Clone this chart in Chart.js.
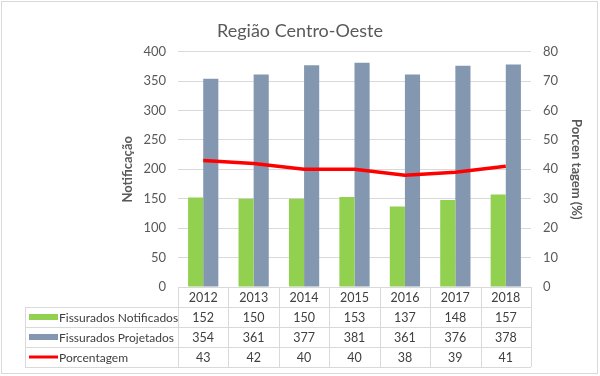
<!DOCTYPE html>
<html>
<head>
<meta charset="utf-8">
<script src="https://cdn.jsdelivr.net/npm/chart.js@4"></script>
<style>
  body { margin: 0; background: #fff; }
  #wrap { width: 600px; height: 376px; }
</style>
</head>
<body>
<div id="wrap"><canvas id="chart"></canvas></div>
<script>
const years = ['2012', '2013', '2014', '2015', '2016', '2017', '2018'];
const notificados = [152, 150, 150, 153, 137, 148, 157];
const projetados = [354, 361, 377, 381, 361, 376, 378];
const porcentagem = [43, 42, 40, 40, 38, 39, 41];

const seriesNames = ['Fissurados Notificados', 'Fissurados Projetados', 'Porcentagem'];
const green = '#92d050';
const blue = '#8497b0';
const red = '#ff0000';
const font = 'Lato, sans-serif';
const textCol = '#595959';
const lineCol = '#d9d9d9';

// data table under the plot, columns follow the x scale
const tablePlugin = {
  id: 'dataTable',
  afterDraw(chart) {
    const c = chart.ctx;
    const x = chart.scales.x;
    const area = chart.chartArea;
    const step = (area.right - area.left) / years.length;
    const rowH = 20;
    const top = area.bottom;
    const tblLeft = 25;

    c.save();
    c.strokeStyle = lineCol;
    c.lineWidth = 1;
    c.beginPath();
    // horizontal lines
    c.moveTo(area.left, top + 0.5); c.lineTo(area.right, top + 0.5);
    for (let r = 1; r <= 4; r++) {
      const y = Math.round(top + r * rowH) + 0.5;
      c.moveTo(tblLeft, y); c.lineTo(area.right, y);
    }
    // vertical lines
    for (let i = 0; i <= years.length; i++) {
      const xx = Math.round(area.left + i * step) + 0.5;
      c.moveTo(xx, top); c.lineTo(xx, top + 4 * rowH);
    }
    c.moveTo(tblLeft + 0.5, top + rowH); c.lineTo(tblLeft + 0.5, top + 4 * rowH);
    c.stroke();

    c.fillStyle = '#404040';
    c.font = '12.5px ' + font;
    c.textAlign = 'center';
    c.textBaseline = 'middle';
    const rows = [years, notificados, projetados, porcentagem];
    rows.forEach((vals, r) => {
      const y = top + r * rowH + rowH / 2 + 1;
      vals.forEach((v, i) => c.fillText(String(v), x.getPixelForValue(i), y));
    });

    // legend keys and names
    c.textAlign = 'left';
    c.font = '12px ' + font;
    seriesNames.forEach((name, k) => {
      const y = top + (k + 1) * rowH + rowH / 2;
      if (k < 2) {
        c.fillStyle = k === 0 ? green : blue;
        c.fillRect(tblLeft + 4, y - 3, 29, 6);
      } else {
        c.strokeStyle = red;
        c.lineWidth = 3;
        c.beginPath();
        c.moveTo(tblLeft + 4, y); c.lineTo(tblLeft + 33, y);
        c.stroke();
      }
      c.fillStyle = '#404040';
      c.fillText(name, tblLeft + 34, y + 1);
    });

    // outer frame
    c.strokeStyle = lineCol;
    c.lineWidth = 1;
    c.strokeRect(1.5, 1.5, 596, 372);
    c.restore();
  }
};

new Chart(document.getElementById('chart'), {
  type: 'bar',
  data: {
    labels: years,
    datasets: [
      {
        type: 'line',
        label: seriesNames[2],
        data: porcentagem,
        yAxisID: 'y1',
        borderColor: red,
        borderWidth: 3.5,
        pointRadius: 0,
        order: 0
      },
      {
        label: seriesNames[0],
        data: notificados,
        backgroundColor: green,
        yAxisID: 'y',
        order: 1
      },
      {
        label: seriesNames[1],
        data: projetados,
        backgroundColor: blue,
        yAxisID: 'y',
        order: 1
      }
    ]
  },
  options: {
    responsive: true,
    maintainAspectRatio: false,
    animation: false,
    datasets: {
      bar: { categoryPercentage: 0.6, barPercentage: 1.0 }
    },
    layout: { padding: { left: 12, right: 12, top: 18, bottom: 89 } },
    scales: {
      x: {
        display: false,
        offset: true
      },
      y: {
        position: 'left',
        min: 0,
        max: 400,
        ticks: { stepSize: 50, padding: 12, color: textCol, font: { family: font, size: 13 } },
        grid: { color: lineCol, drawTicks: false },
        border: { display: false },
        title: {
          display: true,
          text: 'Notificação',
          color: textCol,
          padding: { top: 108, bottom: 4 },
          font: { family: font, size: 13, weight: 'bold' }
        },
        afterFit(scale) { scale.width = 166; }
      },
      y1: {
        position: 'right',
        min: 0,
        max: 80,
        ticks: { stepSize: 10, padding: 12, color: textCol, font: { family: font, size: 13 } },
        grid: { display: false, drawTicks: false },
        border: { display: false },
        title: {
          display: true,
          text: 'Porcen tagem (%)',
          color: textCol,
          font: { family: font, size: 13, weight: 'bold' }
        },
        afterFit(scale) { scale.width = 57; }
      }
    },
    plugins: {
      legend: { display: false },
      tooltip: { enabled: false },
      title: {
        display: true,
        text: 'Região Centro-Oeste',
        color: textCol,
        font: { family: font, size: 18, weight: 'normal' },
        padding: { top: 2, bottom: 10 }
      }
    }
  },
  plugins: [tablePlugin]
});
</script>
</body>
</html>
